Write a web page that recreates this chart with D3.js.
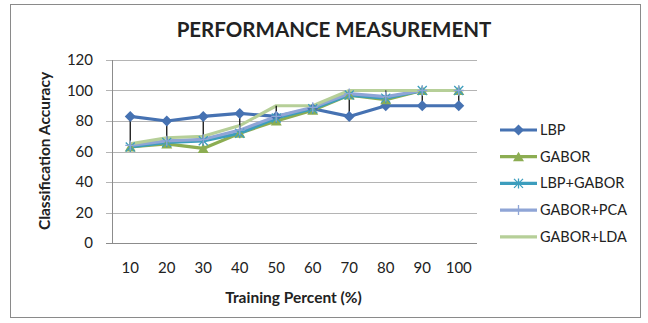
<!DOCTYPE html>
<html>
<head>
<meta charset="utf-8">
<script src="https://cdnjs.cloudflare.com/ajax/libs/d3/7.8.5/d3.min.js"></script>
<style>
  body { margin: 0; background: #fff; }
  text { font-family: Lato, "Open Sans", sans-serif; fill: #222; }
</style>
</head>
<body>
<div id="chart"></div>
<script>
// DATA
const categories = ["10", "20", "30", "40", "50", "60", "70", "80", "90", "100"];
const yTicks = [0, 20, 40, 60, 80, 100, 120];
const seriesNames = ["LBP", "GABOR", "LBP+GABOR", "GABOR+PCA", "GABOR+LDA"];
const lbp = [83, 80, 83, 85, 83, 88, 83, 90, 90, 90];
const gabor = [63, 65, 62, 72, 80, 87, 97, 94, 100, 100];
const lbpGabor = [63, 66, 67, 72, 82, 88, 97, 95, 100, 100];
const gaborPca = [64, 67, 68, 74, 83, 89, 98, 96, 100, 100];
const gaborLda = [65, 69, 70, 77, 90, 90, 100, 100, 100, 100];

const seriesValues = [lbp, gabor, lbpGabor, gaborPca, gaborLda];
const colors = ["#4672b2", "#8cad52", "#3c9dbd", "#8fa5d6", "#b6cf98"];
const markers = ["diamond", "triangle", "star", "plus", "none"];

const width = 648, height = 323;
const margin = { top: 60, right: 171, bottom: 80, left: 112 };
const plotW = width - margin.left - margin.right;
const plotH = height - margin.top - margin.bottom;

const svg = d3.select("#chart").append("svg")
    .attr("width", width)
    .attr("height", height);

// outer frame
svg.append("rect")
    .attr("x", 10.5).attr("y", 4.5)
    .attr("width", 630).attr("height", 313)
    .attr("fill", "#fff")
    .attr("stroke", "#8a8a8a");

svg.append("text")
    .attr("x", 334).attr("y", 37)
    .attr("text-anchor", "middle")
    .style("font-size", "20.5px")
    .style("font-weight", "bold")
    .text("PERFORMANCE MEASUREMENT");

const g = svg.append("g")
    .attr("transform", `translate(${margin.left}, ${margin.top})`);

const x = d3.scaleBand().domain(categories).range([0, plotW]);
const y = d3.scaleLinear().domain([0, 120]).range([plotH, 0]);

// gridlines
g.selectAll(".grid")
    .data(yTicks)
    .enter().append("line")
    .attr("x1", -6).attr("x2", plotW)
    .attr("y1", d => Math.round(y(d)) + 0.5)
    .attr("y2", d => Math.round(y(d)) + 0.5)
    .attr("stroke", d => d === 0 ? "#8c8c8c" : "#b4b4b4")
    .attr("stroke-width", 1);

g.append("line")
    .attr("x1", 0.5).attr("x2", 0.5)
    .attr("y1", 0).attr("y2", plotH)
    .attr("stroke", "#8c8c8c");

// y tick labels
g.selectAll(".ylab")
    .data(yTicks)
    .enter().append("text")
    .attr("x", -19)
    .attr("y", d => y(d))
    .attr("dy", "0.35em")
    .attr("text-anchor", "end")
    .style("font-size", "15px")
    .text(d => d);

// x tick labels
g.selectAll(".xlab")
    .data(categories)
    .enter().append("text")
    .attr("x", d => x(d) + x.bandwidth() / 2)
    .attr("y", plotH + 25)
    .attr("dy", "0.35em")
    .attr("text-anchor", "middle")
    .style("font-size", "15px")
    .text(d => d);

// axis titles
svg.append("text")
    .attr("x", margin.left + plotW / 2 - 1)
    .attr("y", 303)
    .attr("text-anchor", "middle")
    .style("font-size", "15.5px")
    .style("font-weight", "bold")
    .text("Training Percent (%)");

svg.append("text")
    .attr("transform", "translate(50, 151) rotate(-90)")
    .attr("text-anchor", "middle")
    .style("font-size", "15.5px")
    .style("font-weight", "bold")
    .text("Classification Accuracy");

// LINES
const line = d3.line()
    .x((d, i) => x(categories[i]) + x.bandwidth() / 2)
    .y(d => y(d));

seriesValues.forEach((vals, si) => {
    g.append("path")
        .datum(vals)
        .attr("fill", "none")
        .attr("stroke", colors[si])
        .attr("stroke-width", 3.2)
        .attr("stroke-linejoin", "round")
        .attr("d", line);
});

// high-low lines
g.selectAll(".hilo")
    .data(categories)
    .enter().append("line")
    .attr("x1", d => x(d) + x.bandwidth() / 2)
    .attr("x2", d => x(d) + x.bandwidth() / 2)
    .attr("y1", (d, i) => y(d3.max(seriesValues, s => s[i])))
    .attr("y2", (d, i) => y(d3.min(seriesValues, s => s[i])))
    .attr("stroke", "#111")
    .attr("stroke-width", 1.3);

// MARKERS
function drawMarker(sel, type, color) {
    if (type === "diamond") {
        sel.append("path").attr("d", "M0,-5.5L5.5,0L0,5.5L-5.5,0Z").attr("fill", color);
    } else if (type === "triangle") {
        sel.append("path").attr("d", "M0,-5L5.5,4.5L-5.5,4.5Z").attr("fill", color);
    } else if (type === "star") {
        sel.append("path").attr("d", "M-4.5,-4.5L4.5,4.5M-4.5,4.5L4.5,-4.5M0,-5L0,5")
            .attr("stroke", color).attr("stroke-width", 1.3);
    } else if (type === "plus") {
        sel.append("path").attr("d", "M0,-5L0,5M-5,0L5,0")
            .attr("stroke", color).attr("stroke-width", 1.3);
    }
}

seriesValues.forEach((vals, si) => {
    if (markers[si] === "none") return;
    vals.forEach((v, i) => {
        const m = g.append("g")
            .attr("transform", `translate(${x(categories[i]) + x.bandwidth() / 2}, ${y(v)})`);
        drawMarker(m, markers[si], colors[si]);
    });
});

// LEGEND
const legend = svg.append("g").attr("transform", "translate(500, 130)");
const item = legend.selectAll(".legend")
    .data(seriesNames)
    .enter().append("g")
    .attr("transform", (d, i) => `translate(0, ${i * 26.7})`);

item.append("line")
    .attr("x1", 0).attr("x2", 37)
    .attr("stroke", (d, i) => colors[i])
    .attr("stroke-width", 3.2);

item.each(function (d, i) {
    const m = d3.select(this).append("g").attr("transform", "translate(18.5, 0)");
    drawMarker(m, markers[i], colors[i]);
});

item.append("text")
    .attr("x", 40)
    .attr("dy", "0.35em")
    .style("font-size", "14.5px")
    .text(d => d);
</script>
</body>
</html>
